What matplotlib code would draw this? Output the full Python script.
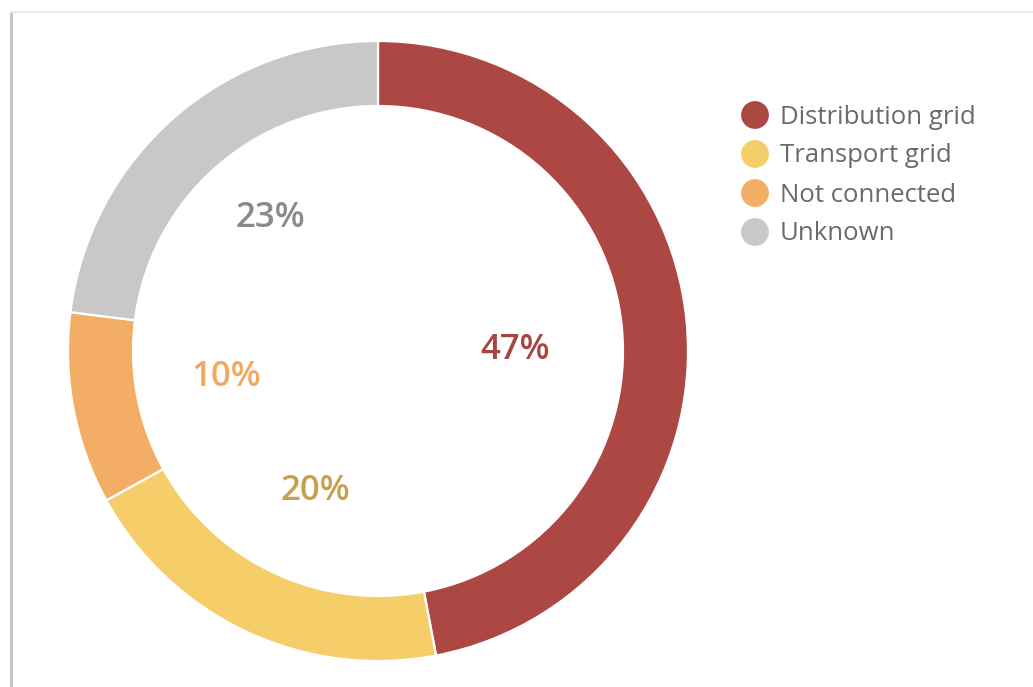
import numpy as np
import matplotlib
matplotlib.use("Agg")
import matplotlib.pyplot as plt

categories = ["Distribution grid", "Transport grid", "Not connected", "Unknown"]
shares = [47, 20, 10, 23]
pct_labels = ["47%", "20%", "10%", "23%"]

slice_colors = ["#AD4744", "#F5CD69", "#F4AD64", "#C8C8C6"]
label_colors = ["#A84442", "#C6A04C", "#F3A862", "#8A8A8A"]

W, H = 1033, 687
fig = plt.figure(figsize=(W / 100, H / 100), dpi=100)
ax = fig.add_axes([0, 0, 1, 1])

# frame lines around the panel
ax.plot([11, 11], [0, H - 12], color="#C4C4C4", lw=2.2, solid_capstyle="butt")
ax.plot([11, W], [H - 12, H - 12], color="#E6E6E6", lw=1.2)

cx, cy = 378, H - 351
R = 310
width = 65

wedges, _ = ax.pie(shares, colors=slice_colors, startangle=90, counterclock=False,
                   center=(cx, cy), radius=R, frame=True,
                   wedgeprops=dict(width=width, edgecolor="white", linewidth=1.6))
ax.set_xlim(0, W)
ax.set_ylim(0, H)
ax.set_aspect("equal")
ax.axis("off")

# percentage labels inside the ring
label_r = [137, 154, 154, 171]
label_shift = [-5, 1, -1, -2.5]
for w, txt, col, r, sh in zip(wedges, pct_labels, label_colors, label_r, label_shift):
    ang = np.deg2rad((w.theta1 + w.theta2) / 2 + sh)
    ax.text(cx + r * np.cos(ang), cy + r * np.sin(ang), txt, color=col,
            fontsize=25, fontfamily="Open Sans", fontweight="semibold",
            ha="center", va="center")

# legend
ly0, dy = H - 115, 39
for i, (name, col) in enumerate(zip(categories, slice_colors)):
    y = ly0 - i * dy
    ax.scatter([755], [y], s=20 ** 2, color=col, edgecolors="none")
    ax.text(780, y - 2, name, color="#6A6A6A", fontsize=18.5, fontfamily="Open Sans",
            ha="left", va="center")

fig.savefig("out.png", dpi=100)
